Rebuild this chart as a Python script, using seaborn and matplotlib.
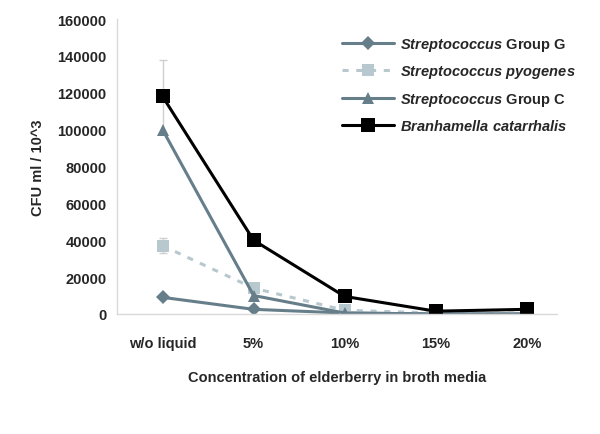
import matplotlib
matplotlib.use("Agg")
import matplotlib.pyplot as plt
import seaborn as sns
import pandas as pd
import numpy as np

sns.set_theme(style="white")
plt.rcParams["font.family"] = ["Liberation Sans", "DejaVu Sans"]
plt.rcParams["mathtext.fontset"] = "custom"
plt.rcParams["mathtext.it"] = "Liberation Sans:italic:bold"

# data
concentrations = ["w/o liquid", "5%", "10%", "15%", "20%"]
group_g = [9000, 2500, 500, 0, 0]
pyogenes = [37000, 14000, 2000, 500, 500]
group_c = [100000, 10000, 500, 0, 0]
branhamella = [118000, 40000, 9500, 1500, 2500]
pyogenes_err = [4000, 0, 0, 0, 0]
branhamella_err = [20000, 0, 0, 0, 0]

series_names = [
    r"$\mathit{Streptococcus}$ Group G",
    r"$\mathit{Streptococcus\ pyogenes}$",
    r"$\mathit{Streptococcus}$ Group C",
    r"$\mathit{Branhamella\ catarrhalis}$",
]
series_values = [group_g, pyogenes, group_c, branhamella]

slate = "#667e8a"
colors = [slate, "#b7c8ce", slate, "black"]
markers = ["D", "s", "^", "s"]
styles = ["-", (0, (2, 2.5)), "-", "-"]
msizes = [8, 9.5, 10, 11.5]

fig = plt.figure(figsize=(6, 4.35), dpi=100)
ax = fig.add_axes([0.195, 0.276, 0.733, 0.678])

# error bars behind the lines
xpos = np.arange(len(concentrations))
ax.errorbar(xpos, branhamella, yerr=branhamella_err, fmt="none",
            ecolor="#d0d0d0", elinewidth=1, capsize=3, zorder=1)
ax.errorbar(xpos, pyogenes, yerr=pyogenes_err, fmt="none",
            ecolor="#d0d0d0", elinewidth=1, capsize=3, zorder=1)

for name, vals, c, m, ls, ms in zip(series_names, series_values, colors,
                                      markers, styles, msizes):
    d = pd.DataFrame({"conc": concentrations, "cfu": vals})
    sns.lineplot(data=d, x="conc", y="cfu", color=c, marker=m, linestyle=ls,
                 markersize=ms, markeredgewidth=0, linewidth=2.2, sort=False,
                 label=name, ax=ax, zorder=2)

ax.set_xlim(-0.5, 4.33)
ax.set_ylim(0, 160000)
ax.set_yticks(range(0, 160001, 20000))
ax.set_xticks(xpos)
ax.set_xticklabels(concentrations)
ax.set_xticks(np.arange(-0.5, 4.0, 1), minor=True)
ax.tick_params(axis="x", which="major", length=0, pad=16)
ax.tick_params(axis="x", which="minor", length=4, color="#d9d9d9", direction="out")
ax.tick_params(axis="y", length=4, color="#d9d9d9", direction="out")
for lab in ax.get_xticklabels() + ax.get_yticklabels():
    lab.set_fontweight("bold")
    lab.set_fontsize(10.5)

sns.despine(ax=ax)
for s in ["left", "bottom"]:
    ax.spines[s].set_color("#d9d9d9")
    ax.spines[s].set_linewidth(1)

ax.set_xlabel("Concentration of elderberry in broth media",
              fontsize=10.5, fontweight="bold", labelpad=14)
ax.set_ylabel("CFU ml / 10^3", fontsize=10.5, fontweight="bold", labelpad=9)

handles, labels = ax.get_legend_handles_labels()
for h, ms in zip(handles, msizes):
    h.set_markersize(ms * 0.85)
leg = ax.legend(handles, labels, loc="upper right", bbox_to_anchor=(1.08, 1.0),
                frameon=False, fontsize=10.5, handlelength=3.6, labelspacing=0.72,
                handletextpad=0.35, borderaxespad=0.75)
for t in leg.get_texts():
    t.set_fontweight("bold")

fig.savefig("out.png", dpi=100)
